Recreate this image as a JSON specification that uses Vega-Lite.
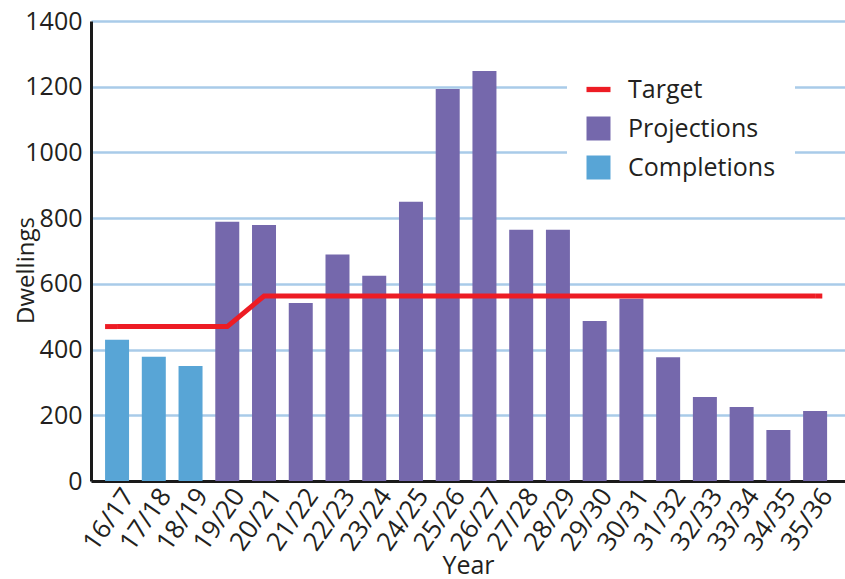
{
  "$schema": "https://vega.github.io/schema/vega-lite/v6.json",
  "width": 754,
  "height": 460,
  "autosize": {"type": "none"},
  "padding": {"left": 91, "top": 21, "right": 0, "bottom": 98},
  "background": "white",
  "config": {
    "font": "Open Sans",
    "view": {"stroke": null},
    "axis": {"labelColor": "#231f20", "titleColor": "#231f20", "labelFontSize": 25, "titleFontSize": 24, "titleFontWeight": "normal", "domainColor": "#1a1a1a", "domainWidth": 3, "ticks": false}
  },
  "datasets": {
    "bars": [
      {"Year": "16/17", "Dwellings": 430, "Series": "Completions"},
      {"Year": "17/18", "Dwellings": 378, "Series": "Completions"},
      {"Year": "18/19", "Dwellings": 350, "Series": "Completions"},
      {"Year": "19/20", "Dwellings": 789, "Series": "Projections"},
      {"Year": "20/21", "Dwellings": 779, "Series": "Projections"},
      {"Year": "21/22", "Dwellings": 542, "Series": "Projections"},
      {"Year": "22/23", "Dwellings": 689, "Series": "Projections"},
      {"Year": "23/24", "Dwellings": 625, "Series": "Projections"},
      {"Year": "24/25", "Dwellings": 850, "Series": "Projections"},
      {"Year": "25/26", "Dwellings": 1193, "Series": "Projections"},
      {"Year": "26/27", "Dwellings": 1248, "Series": "Projections"},
      {"Year": "27/28", "Dwellings": 765, "Series": "Projections"},
      {"Year": "28/29", "Dwellings": 765, "Series": "Projections"},
      {"Year": "29/30", "Dwellings": 487, "Series": "Projections"},
      {"Year": "30/31", "Dwellings": 555, "Series": "Projections"},
      {"Year": "31/32", "Dwellings": 377, "Series": "Projections"},
      {"Year": "32/33", "Dwellings": 256, "Series": "Projections"},
      {"Year": "33/34", "Dwellings": 225, "Series": "Projections"},
      {"Year": "34/35", "Dwellings": 155, "Series": "Projections"},
      {"Year": "35/36", "Dwellings": 213, "Series": "Projections"}
    ],
    "target": [
      {"Year": "16/17", "Target": 470},
      {"Year": "17/18", "Target": 470},
      {"Year": "18/19", "Target": 470},
      {"Year": "19/20", "Target": 470},
      {"Year": "20/21", "Target": 563},
      {"Year": "21/22", "Target": 563},
      {"Year": "22/23", "Target": 563},
      {"Year": "23/24", "Target": 563},
      {"Year": "24/25", "Target": 563},
      {"Year": "25/26", "Target": 563},
      {"Year": "26/27", "Target": 563},
      {"Year": "27/28", "Target": 563},
      {"Year": "28/29", "Target": 563},
      {"Year": "29/30", "Target": 563},
      {"Year": "30/31", "Target": 563},
      {"Year": "31/32", "Target": 563},
      {"Year": "32/33", "Target": 563},
      {"Year": "33/34", "Target": 563},
      {"Year": "34/35", "Target": 563},
      {"Year": "35/36", "Target": 563}
    ],
    "startext": [
      {"Year": "16/17", "Target": 470}
    ],
    "endext": [
      {"Year": "35/36", "Target": 563}
    ]
  },
  "layer": [
    {
      "data": {"name": "bars"},
      "mark": {"type": "bar"},
      "encoding": {
        "x": {
          "field": "Year", "type": "nominal", "sort": null,
          "scale": {
            "domain": ["16/17","17/18","18/19","19/20","20/21","21/22","22/23","23/24","24/25","25/26","26/27","27/28","28/29","29/30","30/31","31/32","32/33","33/34","34/35","35/36"],
            "paddingInner": 0.347, "paddingOuter": 0.435, "align": 0.44
          },
          "axis": {"title": "Year", "labelAngle": -55, "labelAlign": "right", "labelBaseline": "middle", "labelPadding": 10, "labelOffset": 12, "labelFontSize": 26, "grid": false, "titleY": 92, "titleBaseline": "alphabetic", "titleFontSize": 25}
        },
        "y": {
          "field": "Dwellings", "type": "quantitative",
          "scale": {"domain": [0, 1400], "nice": false},
          "axis": {"title": "Dwellings", "format": "d", "values": [0,200,400,600,800,1000,1200,1400], "grid": true, "gridColor": "#a9cbe9", "gridWidth": 2.5, "labelPadding": 9, "titleX": -58, "titleY": 249, "titleBaseline": "alphabetic", "titleAlign": "center"}
        },
        "color": {
          "field": "Series", "type": "nominal",
          "scale": {"domain": ["Target", "Projections", "Completions"], "range": ["#ED1C24", "#7568AC", "#58A5D6"]},
          "legend": {
            "title": null, "orient": "none", "legendX": 476, "legendY": 37,
            "fillColor": "white", "padding": 19, "symbolType": "square", "symbolSize": 576,
            "symbolStrokeWidth": 0, "symbolOpacity": 1, "labelFontSize": 25, "labelColor": "#231f20",
            "labelOffset": 17, "rowPadding": 13, "labelLimit": 300,
            "encode": {"symbols": {"update": {"shape": {"signal": "datum.value === 'Target' ? 'M-1,-0.22H1V0.22H-1Z' : 'square'"}}}}
          }
        }
      }
    },
    {
      "data": {"name": "target"},
      "mark": {"type": "line", "color": "#ED1C24", "strokeWidth": 5, "strokeCap": "butt"},
      "encoding": {
        "x": {"field": "Year", "type": "nominal", "sort": null},
        "y": {"field": "Target", "type": "quantitative"}
      }
    },
    {
      "data": {"name": "startext"},
      "mark": {"type": "rule", "color": "#ED1C24", "strokeWidth": 5, "strokeCap": "butt"},
      "encoding": {
        "x": {"field": "Year", "type": "nominal", "sort": null, "bandPosition": 0},
        "x2": {"field": "Year", "bandPosition": 0.5},
        "y": {"field": "Target", "type": "quantitative"}
      }
    },
    {
      "data": {"name": "endext"},
      "mark": {"type": "rule", "color": "#ED1C24", "strokeWidth": 5, "strokeCap": "butt"},
      "encoding": {
        "x": {"field": "Year", "type": "nominal", "sort": null, "bandPosition": 0.5},
        "x2": {"field": "Year", "bandPosition": 0.8},
        "y": {"field": "Target", "type": "quantitative"}
      }
    }
  ]
}
